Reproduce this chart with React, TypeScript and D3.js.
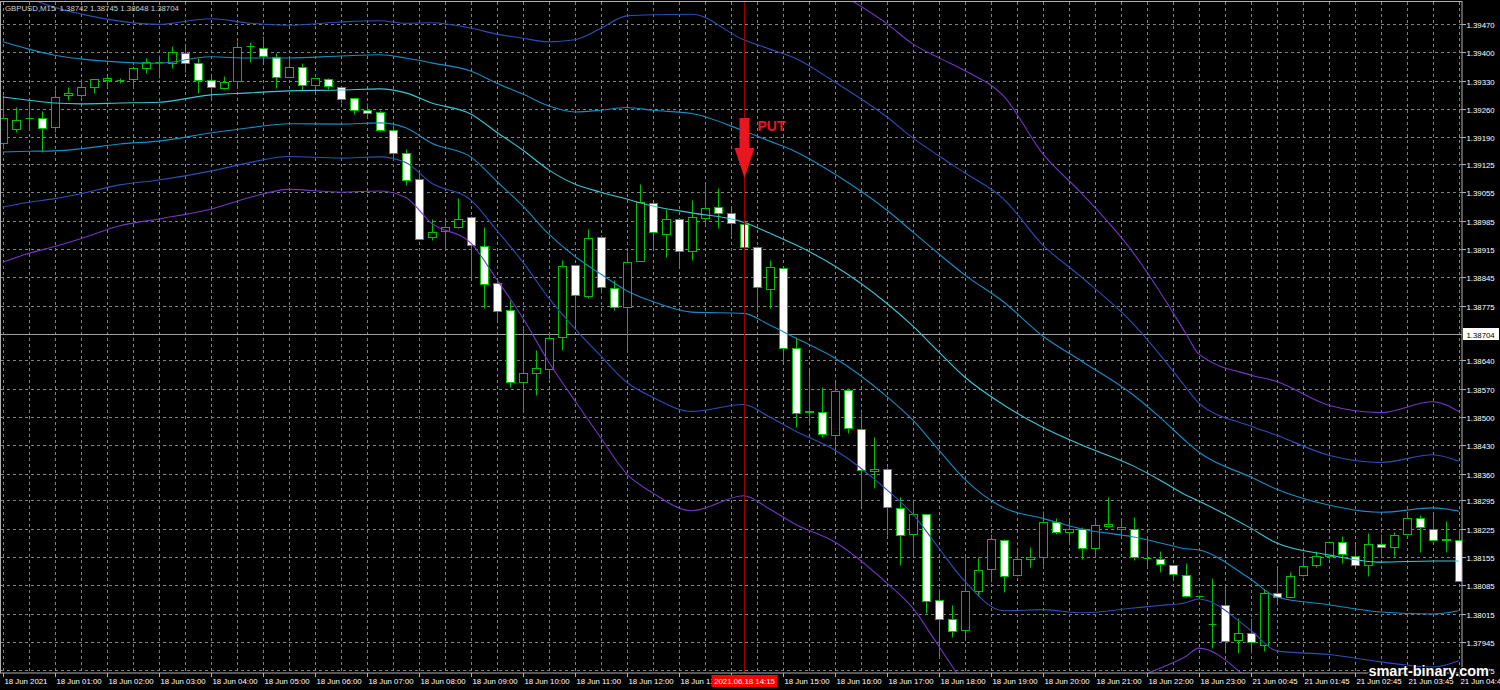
import React from "react";
import * as d3 from "d3";

// ---------- DATA (GBPUSD M15) ----------
const opens = [1.39176,1.39211,1.39237,1.39237,1.39215,1.39294,1.39296,1.39314,1.39331,1.39332,1.39334,1.39362,1.39375,1.39374,1.39398,1.39374,1.39332,1.39311,1.39329,1.39416,1.39410,1.39389,1.39340,1.39365,1.39319,1.39334,1.39315,1.39287,1.39258,1.39252,1.39208,1.39151,1.39087,1.38944,1.38960,1.38970,1.38994,1.38922,1.38830,1.38764,1.38586,1.38610,1.38619,1.38697,1.38875,1.38799,1.38944,1.38818,1.38772,1.38886,1.39028,1.38953,1.38988,1.38910,1.38992,1.39019,1.39004,1.38976,1.38920,1.38816,1.38867,1.38671,1.38514,1.38512,1.38457,1.38567,1.38470,1.38368,1.38372,1.38275,1.38211,1.38261,1.38048,1.38001,1.37974,1.38071,1.38124,1.38197,1.38110,1.38151,1.38155,1.38242,1.38217,1.38225,1.38176,1.38232,1.38225,1.38225,1.38152,1.38150,1.38135,1.38110,1.38059,1.37989,1.38036,1.37951,1.37966,1.37937,1.38066,1.38055,1.38110,1.38134,1.38157,1.38191,1.38157,1.38135,1.38188,1.38180,1.38211,1.38252,1.38223,1.38197,1.38197];
const highs = [1.39295,1.39266,1.39281,1.39255,1.39309,1.39314,1.39334,1.39335,1.39342,1.39337,1.39366,1.39385,1.39393,1.39416,1.39418,1.39385,1.39344,1.39342,1.39428,1.39426,1.39440,1.39398,1.39386,1.39373,1.39337,1.39337,1.39316,1.39288,1.39274,1.39258,1.39220,1.39162,1.39102,1.38990,1.38986,1.39040,1.38995,1.38970,1.38838,1.38789,1.38723,1.38665,1.38707,1.38888,1.38876,1.38964,1.38949,1.38838,1.38910,1.39075,1.39029,1.39013,1.38989,1.39036,1.39078,1.39065,1.39018,1.38982,1.38921,1.38888,1.38871,1.38698,1.38620,1.38575,1.38587,1.38571,1.38509,1.38450,1.38377,1.38303,1.38299,1.38262,1.38077,1.38036,1.38157,1.38154,1.38211,1.38198,1.38174,1.38179,1.38269,1.38250,1.38248,1.38229,1.38250,1.38303,1.38252,1.38254,1.38198,1.38169,1.38136,1.38139,1.38062,1.38103,1.38085,1.38003,1.38003,1.38075,1.38127,1.38118,1.38168,1.38170,1.38194,1.38206,1.38186,1.38213,1.38211,1.38217,1.38262,1.38258,1.38264,1.38243,1.38223];
const lows = [1.39164,1.39204,1.39208,1.39155,1.39204,1.39282,1.39291,1.39299,1.39311,1.39325,1.39315,1.39350,1.39336,1.39361,1.39352,1.39299,1.39287,1.39310,1.39315,1.39377,1.39377,1.39311,1.39339,1.39307,1.39303,1.39309,1.39276,1.39247,1.39241,1.39207,1.39134,1.39073,1.38939,1.38937,1.38916,1.38966,1.38846,1.38768,1.38739,1.38575,1.38517,1.38554,1.38593,1.38665,1.38725,1.38795,1.38805,1.38764,1.38665,1.38885,1.38916,1.38894,1.38871,1.38888,1.38974,1.38966,1.38949,1.38919,1.38760,1.38768,1.38637,1.38476,1.38480,1.38450,1.38414,1.38461,1.38279,1.38324,1.38209,1.38135,1.38157,1.38016,1.37905,1.37958,1.37954,1.38058,1.38094,1.38069,1.38109,1.38131,1.38135,1.38211,1.38190,1.38151,1.38154,1.38229,1.38209,1.38147,1.38127,1.38118,1.38098,1.38056,1.38055,1.37929,1.37918,1.37918,1.37917,1.37923,1.38044,1.38055,1.38109,1.38131,1.38151,1.38141,1.38134,1.38109,1.38157,1.38157,1.38210,1.38168,1.38196,1.38168,1.38095];
const closes = [1.39238,1.39233,1.39238,1.39213,1.39291,1.39300,1.39315,1.39334,1.39336,1.39333,1.39362,1.39375,1.39376,1.39400,1.39373,1.39332,1.39314,1.39326,1.39414,1.39416,1.39391,1.39340,1.39365,1.39319,1.39336,1.39318,1.39284,1.39259,1.39250,1.39208,1.39151,1.39085,1.38940,1.38957,1.38970,1.38990,1.38924,1.38828,1.38762,1.38586,1.38610,1.38620,1.38694,1.38874,1.38801,1.38943,1.38820,1.38771,1.38883,1.39030,1.38956,1.38990,1.38910,1.38994,1.39017,1.39003,1.38980,1.38920,1.38820,1.38870,1.38670,1.38511,1.38513,1.38458,1.38564,1.38472,1.38369,1.38373,1.38277,1.38209,1.38262,1.38047,1.38001,1.37973,1.38071,1.38122,1.38199,1.38108,1.38151,1.38155,1.38242,1.38217,1.38223,1.38176,1.38234,1.38236,1.38229,1.38154,1.38153,1.38137,1.38112,1.38058,1.38058,1.37989,1.37948,1.37966,1.37946,1.38066,1.38055,1.38108,1.38132,1.38157,1.38191,1.38162,1.38135,1.38187,1.38180,1.38209,1.38252,1.38228,1.38197,1.38200,1.38096];

// Bollinger-style bands: middle line and one deviation, read at these bar indices
const bandIdx = [0,2,4,6,9,12,16,19,22,26,29,31,33,36,38,40,42,44,46,48,50,53,57,59,61,64,68,70,72,74,77,80,83,87,89,91,92,96,98,102,106,110,112];
const bandMid = [1.39290,1.39282,1.39275,1.39273,1.39275,1.39277,1.39295,1.39300,1.39305,1.39307,1.39310,1.39300,1.39275,1.39248,1.39203,1.39159,1.39110,1.39075,1.39055,1.39038,1.39021,1.39004,1.38981,1.38954,1.38925,1.38873,1.38781,1.38725,1.38661,1.38599,1.38530,1.38475,1.38431,1.38379,1.38345,1.38308,1.38293,1.38226,1.38189,1.38160,1.38142,1.38145,1.38145];
const bandDev = [0.00136,0.00126,0.00118,0.00111,0.00101,0.00096,0.00094,0.00086,0.00081,0.00084,0.00084,0.00086,0.00099,0.00106,0.00121,0.00138,0.00158,0.00178,0.00202,0.00226,0.00236,0.00245,0.00225,0.00227,0.00230,0.00227,0.00230,0.00232,0.00242,0.00252,0.00254,0.00225,0.00207,0.00175,0.00155,0.00133,0.00121,0.00126,0.00133,0.00123,0.00123,0.00131,0.00123];
const bandMult = [-3, -2, -1, 0, 1, 2, 3];
const bandColors = ["#7436c4", "#2c4fb8", "#1a8cc4", "#3cc6d4", "#1a8cc4", "#2c4fb8", "#7436c4"];

const priceTicks = [1.39470,1.39400,1.39330,1.39260,1.39190,1.39125,1.39055,1.38985,1.38915,1.38845,1.38775,1.38705,1.38640,1.38570,1.38500,1.38430,1.38360,1.38295,1.38225,1.38155,1.38085,1.38015,1.37945,1.37875];
const timeLabels = ["18 Jun 2021","18 Jun 01:00","18 Jun 02:00","18 Jun 03:00","18 Jun 04:00","18 Jun 05:00","18 Jun 06:00","18 Jun 07:00","18 Jun 08:00","18 Jun 09:00","18 Jun 10:00","18 Jun 11:00","18 Jun 12:00","18 Jun 13:00","18 Jun 14:00","18 Jun 15:00","18 Jun 16:00","18 Jun 17:00","18 Jun 18:00","18 Jun 19:00","18 Jun 20:00","18 Jun 21:00","18 Jun 22:00","18 Jun 23:00","21 Jun 00:45","21 Jun 01:45","21 Jun 02:45","21 Jun 03:45","21 Jun 04:45"];
const labelEvery = 4;
const bidPrice = 1.38704;
const signalBar = 57;
const signalLabel = "2021.06.18 14:15";
const header = "GBPUSD,M15  1.38742 1.38745 1.38648 1.38704";

const FONT = "'Liberation Sans', Arial, sans-serif";
const GREEN = "#00c000";

export default function App() {
  const W = 1500, H = 690;
  const right = 1462, bottom = 673;
  const n = opens.length;
  const x = d3.scaleLinear().domain([0, n - 1]).range([2.7, 1458.7]);
  const y = d3.scaleLinear().domain([1.37945, 1.39470]).range([642, 24]);
  const px = (i: number) => Math.round(x(i)) + 0.5;
  const bidY = Math.round(y(bidPrice)) + 0.5;

  const vGrid = d3.range(0, n, 2);

  const bandLines = bandMult.map((k) =>
    d3
      .line<number>()
      .x((_, j) => x(bandIdx[j]))
      .y((m, j) => y(m + k * bandDev[j]))
      .curve(d3.curveMonotoneX)(bandMid) as string
  );

  const sx = px(signalBar);

  return (
    <svg
      width={W}
      height={H}
      style={{ position: "fixed", left: 0, top: 0, background: "#000", display: "block" }}
      fontFamily={FONT}
    >
      <defs>
        <clipPath id="plot">
          <rect x={1} y={1} width={right - 1} height={bottom - 1} />
        </clipPath>
      </defs>
      <rect x={0} y={0} width={W} height={H} fill="#000" />

      {/* grid */}
      <g stroke="#7a8591" strokeWidth={1} strokeDasharray="3,3">
        {priceTicks.map((p) => (
          <line key={"h" + p} x1={1} x2={right} y1={Math.round(y(p)) + 0.5} y2={Math.round(y(p)) + 0.5} />
        ))}
        {vGrid.map((i) => (
          <line key={"v" + i} x1={px(i)} x2={px(i)} y1={2} y2={bottom} />
        ))}
      </g>

      {/* bid line */}
      <line x1={1} x2={right} y1={bidY} y2={bidY} stroke="#a0a0a0" strokeWidth={1} />

      <g clipPath="url(#plot)">
        {/* candles */}
        {opens.map((o, i) => {
          const c = closes[i];
          const cx = px(i);
          const yh = Math.round(y(highs[i])) + 0.5;
          const yl = Math.round(y(lows[i])) + 0.5;
          const yt = Math.round(y(Math.max(o, c))) + 0.5;
          const yb = Math.round(y(Math.min(o, c))) + 0.5;
          const bull = c >= o;
          return (
            <g key={"c" + i}>
              <line x1={cx} x2={cx} y1={yh} y2={yl} stroke={GREEN} strokeWidth={1} />
              {yb - yt < 1 ? (
                <line x1={cx - 4} x2={cx + 4} y1={yt} y2={yt} stroke={GREEN} strokeWidth={1} />
              ) : (
                <rect x={cx - 4} y={yt} width={8} height={yb - yt} fill={bull ? "#000" : "#fff"} stroke={GREEN} strokeWidth={1} />
              )}
            </g>
          );
        })}

        {/* bands */}
        {bandLines.map((d, k) => (
          <path key={"b" + k} d={d} fill="none" stroke={bandColors[k]} strokeWidth={1.1} />
        ))}

        {/* signal line */}
        <line x1={sx} x2={sx} y1={0} y2={bottom} stroke="#9a0000" strokeWidth={1} />

        {/* PUT arrow */}
        <path
          d={`M${sx - 5},${118} L${sx + 5},${118} L${sx + 5},${148} L${sx + 10},${148} L${sx},${178} L${sx - 10},${148} L${sx - 5},${148} Z`}
          fill="#e8161e"
        />
        <text x={sx + 13} y={131} fill="#e8161e" fontSize={14} fontWeight="bold">PUT</text>
      </g>

      {/* frame */}
      <rect x={0.5} y={1.5} width={right - 0.5} height={bottom - 1.5} fill="none" stroke="#b0b0b0" strokeWidth={1} />

      {/* price axis */}
      <g fontSize={7.8} fill="#fff">
        {priceTicks.map((p) => {
          const yy = Math.round(y(p)) + 0.5;
          if (Math.abs(yy - bidY) < 10 || yy > bottom) return null;
          return (
            <g key={"pl" + p}>
              <line x1={right} x2={right + 4} y1={yy} y2={yy} stroke="#b0b0b0" />
              <text x={right + 4.5} y={yy + 3}>{p.toFixed(5)}</text>
            </g>
          );
        })}
        <rect x={right + 1} y={bidY - 6.5} width={36} height={12} fill="#fff" />
        <text x={right + 4.5} y={bidY + 3} fill="#000">{bidPrice.toFixed(5)}</text>
      </g>

      {/* time axis */}
      <g fontSize={7.8} fill="#fff">
        {timeLabels.map((t, j) => {
          const i = j * labelEvery;
          const xx = px(i);
          const hidden = Math.abs(i - signalBar) < 3;
          return (
            <g key={"tl" + j}>
              <line x1={xx} x2={xx} y1={bottom} y2={bottom + 4} stroke="#b0b0b0" />
              {!hidden && <text x={xx + 1} y={684}>{t}</text>}
            </g>
          );
        })}
        <rect x={sx - 33} y={675} width={66} height={12} fill="#ff0000" />
        <text x={sx} y={684} textAnchor="middle" fill="#fff">{signalLabel}</text>
      </g>

      {/* header */}
      <text x={5} y={11} fontSize={7.8} fill="#d0d0d0" style={{ whiteSpace: "pre" }}>{header}</text>

      {/* watermark */}
      <text
        x={1489}
        y={676}
        textAnchor="end"
        fontSize={14.5}
        fontWeight="bold"
        fill="#fff"
        stroke="#000"
        strokeWidth={2}
        style={{ paintOrder: "stroke" }}
      >
        smart-binary.com
      </text>
    </svg>
  );
}
